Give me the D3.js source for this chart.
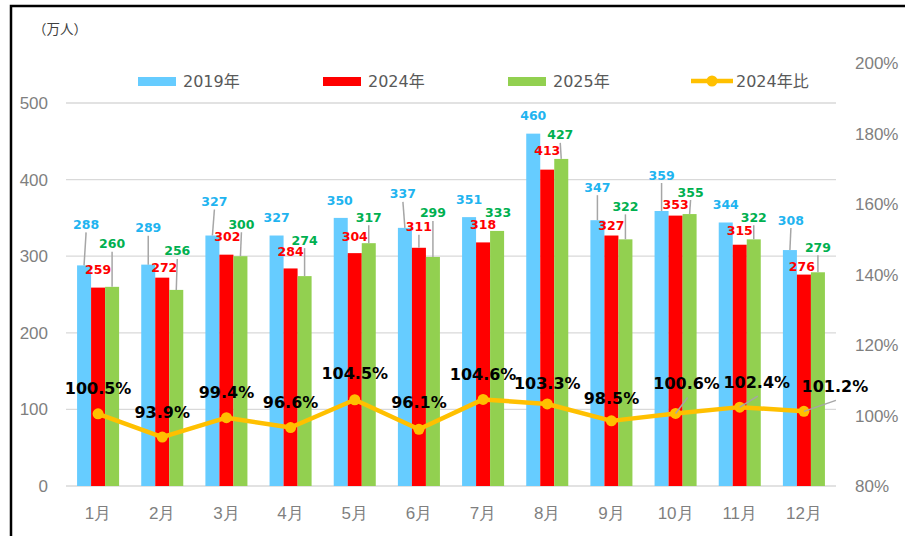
<!DOCTYPE html>
<meta charset="utf-8">
<title>訪日客 月別推移</title>
<style>
  body { margin: 0; background: #fff; }
  svg { display: block; font-family: "DejaVu Sans", "Noto Sans CJK JP", sans-serif; }
  .grid line { stroke: #d9d9d9; stroke-width: 1.3; }
  .axis text { fill: #7f7f7f; font-size: 17px; }
  .legend text { fill: #595959; font-size: 16px; }
  .lbl { font-weight: bold; font-size: 12.5px; }
  .pct { font-weight: bold; font-size: 16px; fill: #000; }
  .leader { stroke: #a6a6a6; stroke-width: 1.5; }
</style>
<body>
<script src="https://cdn.jsdelivr.net/npm/d3@7"></script>
<script>
// data
const months = ["1月","2月","3月","4月","5月","6月","7月","8月","9月","10月","11月","12月"];
const y2019 = [288, 289, 327, 327, 350, 337, 351, 460, 347, 359, 344, 308];
const y2024 = [259, 272, 302, 284, 304, 311, 318, 413, 327, 353, 315, 276];
const y2025 = [260, 256, 300, 274, 317, 299, 333, 427, 322, 355, 322, 279];
const ratio = [100.5, 93.9, 99.4, 96.6, 104.5, 96.1, 104.6, 103.3, 98.5, 100.6, 102.4, 101.2];
const leftTicks = [0, 100, 200, 300, 400, 500];
const rightTicks = [80, 100, 120, 140, 160, 180, 200];

// label nudges (layout only): [dx, dy] from bar top / point
const offBlue = [[2,-41],[0,-37],[2,-34],[0,-18],[-1,-17],[-2,-34],[0,-18],[0,-18],[0,-33],[0,-36],[0,-18],[1,-30]];
const offRed = [[0,-18],[2,-10],[1,-18],[0,-17],[0,-17],[0,-21],[0,-18],[0,-19],[0,-10],[0,-11],[0,-14],[-2,-8]];
const offGreen = [[0,-43],[1,-39],[1,-32],[0,-36],[0,-26],[0,-44],[1,-18],[-1,-24],[0,-33],[1,-22],[0,-22],[0,-25]];
const offRatio = [[0,-25],[0,-25],[0,-25],[0,-25],[0,-26],[0,-27],[0,-25],[0,-20],[0,-22],[11,-30],[17,-25],[31,-25]];

var width = 905, height = 536;
var plotL = 66, plotR = 836, plotT = 103, plotB = 486;

var svg = d3.select("body").append("svg")
  .attr("width", width).attr("height", height);

// frame
svg.append("rect")
  .attr("x", 11).attr("y", 6).attr("width", 920).attr("height", 560)
  .attr("fill", "none").attr("stroke", "#000").attr("stroke-width", 2.5);

var x0 = d3.scaleBand().domain(months).range([plotL, plotR])
  .paddingInner(0.345).paddingOuter(0.1725);
var series = [
  { key: "2019年", values: y2019, color: "#66ccff", text: "#1fb4f0", off: offBlue },
  { key: "2024年", values: y2024, color: "#ff0000", text: "#ff0000", off: offRed },
  { key: "2025年", values: y2025, color: "#92d050", text: "#00b050", off: offGreen }
];
var x1 = d3.scaleBand().domain(series.map(s => s.key)).range([0, x0.bandwidth()]);
var y = d3.scaleLinear().domain([0, 500]).range([plotB, plotT]);
var yr = d3.scaleLinear().domain([80, 200]).range([plotB, 63.5]);

// grid
svg.append("g").attr("class", "grid")
  .selectAll("line").data(leftTicks).enter().append("line")
  .attr("x1", plotL).attr("x2", plotR)
  .attr("y1", d => y(d)).attr("y2", d => y(d));

// left axis
var yAxis = d3.axisLeft(y).tickValues(leftTicks).tickSize(0).tickPadding(18);
svg.append("g").attr("class", "axis").attr("transform", `translate(${plotL},0)`)
  .call(yAxis).call(g => g.select(".domain").remove());

// right axis
var yrAxis = d3.axisRight(yr).tickValues(rightTicks).tickSize(0).tickPadding(19)
  .tickFormat(d => d + "%");
svg.append("g").attr("class", "axis").attr("transform", `translate(${plotR},0)`)
  .call(yrAxis).call(g => g.select(".domain").remove());

// x axis
var xAxis = d3.axisBottom(x0).tickSize(0).tickPadding(21);
svg.append("g").attr("class", "axis").attr("transform", `translate(0,${plotB})`)
  .call(xAxis).call(g => g.select(".domain").remove());

// unit
svg.append("text").attr("x", 33).attr("y", 28).attr("dominant-baseline", "central")
  .style("font-size", "13.5px").style("fill", "#404040")
  .style("font-family", "'Noto Sans CJK JP', sans-serif").text("（万人）");

// bars
series.forEach(function (s) {
  var g = svg.append("g");
  g.selectAll("rect").data(s.values).enter().append("rect")
    .attr("x", (d, i) => x0(months[i]) + x1(s.key))
    .attr("y", d => y(d))
    .attr("width", x1.bandwidth())
    .attr("height", d => y(0) - y(d))
    .attr("fill", s.color);
});

// ratio line
var cx = i => x0(months[i]) + x0.bandwidth() / 2;
var line = d3.line().x((d, i) => cx(i)).y(d => yr(d));
svg.append("path").datum(ratio)
  .attr("d", line).attr("fill", "none")
  .attr("stroke", "#ffc000").attr("stroke-width", 4.5).attr("stroke-linejoin", "round");
svg.append("g").selectAll("circle").data(ratio).enter().append("circle")
  .attr("cx", (d, i) => cx(i)).attr("cy", d => yr(d)).attr("r", 5.5)
  .attr("fill", "#ffc000");

// bar labels + leaders
series.forEach(function (s) {
  var g = svg.append("g");
  s.values.forEach(function (v, i) {
    var bx = x0(months[i]) + x1(s.key) + x1.bandwidth() / 2;
    var lx = bx + s.off[i][0], ly = y(v) + s.off[i][1];
    if (s.off[i][1] < -20) {
      g.append("line").attr("class", "leader")
        .attr("x1", lx).attr("y1", ly + 8).attr("x2", bx).attr("y2", y(v));
    }
    g.append("text").attr("class", "lbl")
      .attr("x", lx).attr("y", ly)
      .attr("text-anchor", "middle").attr("dominant-baseline", "central")
      .attr("fill", s.text).text(v);
  });
});

// ratio labels
var rg = svg.append("g");
ratio.forEach(function (v, i) {
  var px = cx(i), py = yr(v);
  var lx = px + offRatio[i][0], ly = py + offRatio[i][1];
  if (offRatio[i][0] > 5) {
    rg.append("line").attr("class", "leader")
      .attr("x1", px).attr("y1", py).attr("x2", lx + 1).attr("y2", ly + 14);
  }
  rg.append("text").attr("class", "pct")
    .attr("x", lx).attr("y", ly)
    .attr("text-anchor", "middle").attr("dominant-baseline", "central")
    .text(v.toFixed(1) + "%");
});

// legend
var legendItems = [
  { name: "2019年", color: "#66ccff", x: 138 },
  { name: "2024年", color: "#ff0000", x: 323 },
  { name: "2025年", color: "#92d050", x: 508 },
  { name: "2024年比", color: "#ffc000", x: 691, line: true }
];
var lg = svg.append("g").attr("class", "legend");
legendItems.forEach(function (d) {
  if (d.line) {
    lg.append("line").attr("x1", d.x).attr("x2", d.x + 42).attr("y1", 81).attr("y2", 81)
      .attr("stroke", d.color).attr("stroke-width", 4.5);
    lg.append("circle").attr("cx", d.x + 21).attr("cy", 81).attr("r", 5.5).attr("fill", d.color);
  } else {
    lg.append("rect").attr("x", d.x).attr("y", 77).attr("width", 38).attr("height", 9)
      .attr("fill", d.color);
  }
  lg.append("text").attr("x", d.x + 45).attr("y", 81).attr("dominant-baseline", "central")
    .text(d.name);
});
</script>
</body>
